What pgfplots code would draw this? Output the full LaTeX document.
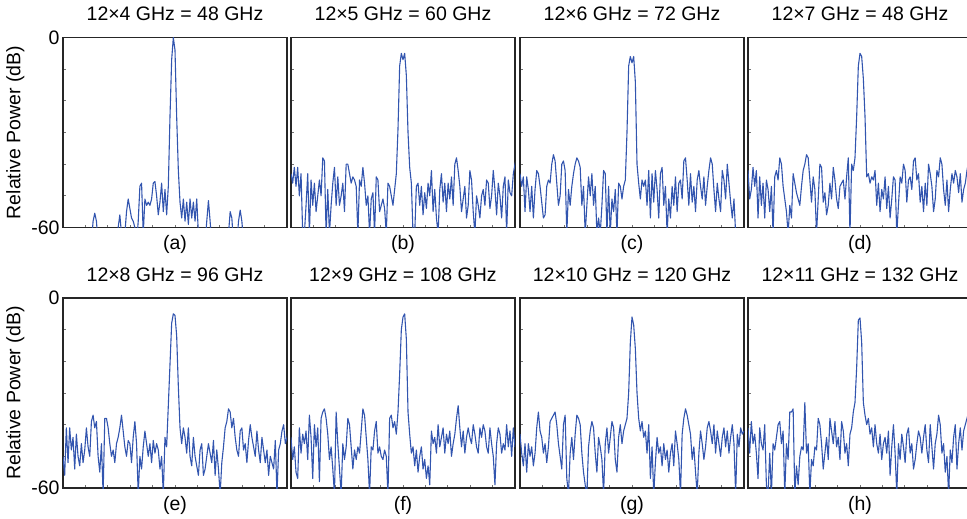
\documentclass[border=0pt]{standalone}
\usepackage{fontspec}
\setmainfont{Liberation Sans}
\usepackage{pgfplots}
\pgfplotsset{compat=1.18}
\definecolor{traceblue}{RGB}{50,85,175}
\newcommand\fs{\fontsize{19.5}{23}\selectfont}
\pgfplotsset{
 panel/.style={scale only axis, width=224pt, height=190pt,
   xmin=0, xmax=134, ymin=-60, ymax=0,
   axis line style={black!85, line width=1.1pt},
   tick align=inside, tick pos=left,
   xtick={13.4,26.8,40.2,53.6,67,80.4,93.8,107.2,120.6}, xticklabels={},
   ytick={-60,-50,-40,-30,-20,-10,0}, yticklabels={},
   major tick length=3pt,
   every tick/.style={black!55, line width=0.7pt},
   title style={font=\fs, at={(0.5,1)}, anchor=base, yshift=11pt},
   xlabel style={font=\fs, at={(0.5,0)}, anchor=base, yshift=-22pt},
   ylabel style={font=\fs},
   yticklabel style={font=\fs},
   anchor=south west},
 leftpanel/.style={yticklabels={-60,{},{},{},{},{},0}, ylabel={Relative Power (dB)}},
 trace/.style={color=traceblue, line width=1.1pt, line join=round},
}
\pgfkeys{/pgfplots/table/tab/.style={header=false, row sep=\\, x expr=\coordindex, y index=0}}
\begin{document}
\begin{tikzpicture}
\path[use as bounding box] (0,0) rectangle (967pt,-519pt);
\clip (0,0) rectangle (967pt,-519pt);
% (a)
\begin{axis}[panel, leftpanel, at={(63pt,-227.5pt)}, title={12×4 GHz = 48 GHz}, xlabel={(a)}]
\addplot[trace] table[tab]{
-65\\-65\\-65\\-65\\-65\\-65\\-65\\-65\\-65\\-65\\-65\\-65\\-65\\-65\\-65\\-65\\-65\\-65\\
-58\\-55.5\\-58\\-65\\
-65\\-65\\-65\\-65\\-65\\-65\\-65\\-65\\-65\\-65\\-65\\
-60\\-56\\-62\\-65\\
-62\\-55\\-51\\-54\\-57\\-58\\-60\\-65\\
-58\\-47\\-46\\-62\\-51\\-53\\-52\\-53\\-51\\-46\\-45.5\\-50\\-56\\-52\\-46\\-55\\-48\\-56\\-47\\
-25\\-7\\0\\-4\\-25\\-42\\-52\\-57\\-51\\-58\\-52\\-59\\-51\\-57\\-52\\-58\\-51\\-62\\-65\\
-65\\-65\\-65\\
-58\\-51.5\\-58\\-65\\
-65\\-65\\-65\\-65\\-65\\-65\\-65\\-65\\-65\\
-62\\-55\\-57\\-65\\
-65\\-65\\
-58\\-54.5\\-58\\-65\\
-65\\-65\\-65\\-65\\-65\\-65\\-65\\-65\\-65\\-65\\-65\\-65\\-65\\-65\\-65\\-65\\-65\\-65\\-65\\-65\\-65\\-65\\-65\\-65\\-65\\-65\\
};
\end{axis}
% (b)
\begin{axis}[panel, at={(291pt,-227.5pt)}, title={12×5 GHz = 60 GHz}, xlabel={(b)}]
\addplot[trace] table[tab]{
-43\\-46\\-41\\-47\\-41\\-50\\-43\\-62\\-62\\-53\\-43\\-62\\-45\\-53\\-46\\-55\\-50\\-45\\-50\\-38\\
-39\\-62\\-48\\-62\\-53\\-46\\-41\\-53\\-44\\-53\\-50\\-46\\-55\\-40\\-40\\-43\\-46\\-44\\-45\\-47\\
-62\\-45\\-47\\-41\\-46\\-53\\-50\\-62\\-51\\-49\\-62\\-44\\-45\\-55\\-53\\-51\\-54\\-62\\-46\\-47\\
-50\\-53\\-48\\-43\\
-29\\-9\\-5\\-7\\-5\\-12\\-30\\
-41\\-46\\-62\\-62\\-47\\-46\\-53\\-47\\-56\\-49\\-54\\-46\\-50\\-42\\-55\\-48\\-57\\-62\\-48\\-43\\
-52\\-46\\-55\\-46\\-51\\-44\\-53\\-40\\-38\\-42\\-47\\-55\\-51\\-47\\-57\\-53\\-42\\-45\\-55\\-62\\
-50\\-53\\-57\\-50\\-48\\-53\\-45\\-46\\-54\\-50\\-42\\-48\\-56\\-46\\-50\\-57\\-47\\-44\\-62\\-45\\
-49\\-50\\-43\\-40\\-38\\-43\\
};
\end{axis}
% (c)
\begin{axis}[panel, at={(520pt,-227.5pt)}, title={12×6 GHz = 72 GHz}, xlabel={(c)}]
\addplot[trace] table[tab]{
-43\\-47\\-44\\-55\\-44\\-48\\-55\\-47\\-57\\-48\\-42\\-43\\-47\\-52\\-57\\-56\\-47\\-45\\-46\\-40\\
-37\\-39\\-46\\-53\\-50\\-40\\-39\\-42\\-62\\-48\\-53\\-47\\-43\\-40\\-38\\-39\\-41\\-53\\-47\\-62\\
-53\\-44\\-50\\-43\\-53\\-47\\-62\\-57\\-62\\-53\\-42\\-43\\-62\\-47\\-62\\-51\\-55\\-48\\-62\\-46\\
-47\\-51\\-47\\-45\\
-30\\-9\\-6\\-8\\-6\\-14\\-40\\
-46\\-51\\-45\\-47\\-45\\-53\\-42\\-57\\-43\\-52\\-42\\-48\\-57\\-43\\-41\\-53\\-47\\-62\\-51\\-57\\
-47\\-53\\-44\\-55\\-46\\-45\\-51\\-39\\-38\\-45\\-53\\-43\\-52\\-47\\-55\\-45\\-42\\-47\\-51\\-44\\
-53\\-47\\-42\\-38\\-40\\-48\\-55\\-46\\-51\\-55\\-42\\-45\\-51\\-40\\-46\\-52\\-57\\-51\\-62\\
};
\end{axis}
% (d)
\begin{axis}[panel, at={(748pt,-227.5pt)}, title={12×7 GHz = 48 GHz}, xlabel={(d)}]
\addplot[trace] table[tab]{
-42\\-51\\-48\\-41\\-47\\-42\\-57\\-44\\-53\\-46\\-57\\-45\\-48\\-55\\-47\\-62\\-44\\-42\\-45\\-38\\
-40\\-47\\-51\\-55\\-62\\-53\\-57\\-43\\-46\\-49\\-51\\-53\\-47\\-42\\-40\\-37\\-38\\-45\\-52\\-44\\
-48\\-62\\-51\\-40\\-41\\-52\\-49\\-56\\-53\\-46\\-51\\-41\\-45\\-51\\-54\\-47\\-46\\-45\\-51\\-44\\
-38\\-62\\-40\\-42\\-38\\
-25\\-9\\-5\\-6\\-13\\-25\\
-44\\-43\\-46\\-44\\-45\\-42\\-53\\-46\\-55\\-48\\-51\\-44\\-54\\-47\\-57\\-51\\-44\\-45\\-62\\-53\\
-44\\-46\\-40\\-42\\-52\\-45\\-44\\-48\\-39\\-38\\-45\\-43\\-52\\-47\\-55\\-46\\-53\\-40\\-43\\-47\\
-55\\-51\\-42\\-44\\-38\\-40\\-48\\-53\\-45\\-55\\-48\\-43\\-46\\-42\\-44\\-49\\-43\\-52\\-48\\-46\\
-42\\-39\\-44\\-42\\-40\\-42\\
};
\end{axis}
% (e)
\begin{axis}[panel, leftpanel, at={(63pt,-488pt)}, title={12×8 GHz = 96 GHz}, xlabel={(e)}]
\addplot[trace] table[tab]{
-50\\-56\\-41\\-52\\-41\\-48\\-44\\-54\\-43\\-50\\-53\\-46\\-52\\-48\\-41\\-47\\-50\\-39\\-37\\-41\\
-39\\-50\\-55\\-46\\-62\\-38\\-38\\-41\\-46\\-50\\-48\\-52\\-46\\-44\\-41\\-37\\-42\\-47\\-50\\-45\\
-46\\-52\\-44\\-39\\-46\\-62\\-50\\-54\\-47\\-42\\-46\\-50\\-46\\-52\\-45\\-49\\-46\\-48\\-54\\-50\\
-62\\-44\\-47\\
-34\\-21\\-8\\-5\\-5.5\\-12\\-28\\
-41\\-46\\-41\\-44\\-49\\-41\\-50\\-53\\-44\\-50\\-53\\-56\\-48\\-46\\-56\\-54\\-50\\-46\\-49\\-52\\
-45\\-56\\-48\\-54\\-62\\-52\\-47\\-41\\-39\\-35\\-36\\-41\\-38\\-44\\-48\\-50\\-42\\-41\\-48\\-46\\
-52\\-45\\-40\\-44\\-47\\-50\\-42\\-48\\-52\\-44\\-48\\-52\\-48\\-56\\-50\\-52\\-54\\-45\\-62\\-48\\
-46\\-42\\-40\\-46\\-44\\-41\\-48\\-44\\
};
\end{axis}
% (f)
\begin{axis}[panel, at={(291pt,-488pt)}, title={12×9 GHz = 108 GHz}, xlabel={(f)}]
\addplot[trace] table[tab]{
-44\\-51\\-47\\-55\\-57\\-41\\-49\\-43\\-46\\-42\\-51\\-37\\-44\\-57\\-40\\-47\\-41\\-58\\-38\\-36\\
-35\\-38\\-43\\-51\\-47\\-54\\-62\\-36\\-46\\-54\\-62\\-46\\-51\\-47\\-38\\-40\\-47\\-54\\-48\\-51\\
-47\\-49\\-42\\-35\\-37\\-44\\-51\\-62\\-47\\-48\\-42\\-39\\-49\\-47\\-50\\-51\\-48\\-50\\-62\\-38\\
-37\\-41\\-39\\-43\\-36\\
-24\\-10\\-6\\-5\\-13\\-36\\
-43\\-49\\-47\\-53\\-48\\-55\\-50\\-47\\-54\\-51\\-57\\-53\\-59\\-42\\-46\\-44\\-49\\-40\\-47\\-44\\
-41\\-49\\-43\\-46\\-42\\-50\\-46\\-43\\-38\\-34\\-41\\-47\\-42\\-49\\-44\\-41\\-44\\-46\\-40\\-43\\
-47\\-49\\-41\\-44\\-40\\-42\\-47\\-49\\-41\\-46\\-50\\-59\\-46\\-41\\-43\\-49\\-46\\-48\\-40\\-47\\
-42\\-50\\-41\\-47\\-44\\
};
\end{axis}
% (g)
\begin{axis}[panel, at={(520pt,-488pt)}, title={12×10 GHz = 120 GHz}, xlabel={(g)}]
\addplot[trace] table[tab]{
-43\\-49\\-53\\-46\\-55\\-46\\-50\\-47\\-53\\-49\\-41\\-36\\-42\\-44\\-49\\-46\\-52\\-47\\-39\\-38\\
-37\\-36\\-40\\-46\\-50\\-54\\-40\\-37\\-57\\-62\\-49\\-44\\-51\\-43\\-37\\-38\\-40\\-49\\-55\\-59\\
-62\\-47\\-42\\-39\\-41\\-49\\-55\\-44\\-47\\-51\\-62\\-46\\-41\\-49\\-44\\-39\\-41\\-51\\-55\\-44\\
-40\\-46\\-42\\-40\\-38\\
-30\\-14\\-6\\-8.5\\-16\\-30\\-38\\
-42\\-39\\-44\\-42\\-49\\-40\\-57\\-47\\-62\\-52\\-44\\-49\\-47\\-53\\-46\\-51\\-48\\-55\\-49\\-46\\
-53\\-42\\-46\\-51\\-62\\-43\\-38\\-35\\-37\\-40\\-43\\-51\\-47\\-55\\-62\\-49\\-42\\-46\\-51\\-47\\
-41\\-39\\-42\\-46\\-40\\-49\\-42\\-46\\-50\\-44\\-41\\-47\\-42\\-49\\-44\\-40\\-46\\-62\\-43\\-47\\
-41\\-43\\-42\\
};
\end{axis}
% (h)
\begin{axis}[panel, at={(748pt,-488pt)}, title={12×11 GHz = 132 GHz}, xlabel={(h)}]
\addplot[trace] table[tab]{
-41\\-49\\-39\\-46\\-43\\-49\\-57\\-41\\-46\\-48\\-40\\-59\\-62\\-49\\-62\\-46\\-48\\-44\\-40\\-39\\
-46\\-42\\-62\\-46\\-51\\-36\\-36\\-35\\-62\\-53\\-59\\-50\\-47\\-48\\-33\\-49\\-46\\-62\\-51\\-53\\
-47\\-48\\-38\\-40\\-46\\-54\\-49\\-44\\-51\\-38\\-42\\-46\\-39\\-47\\-44\\-51\\-39\\-42\\-49\\-46\\
-53\\-43\\-41\\-36\\-33\\
-22\\-7\\-6.3\\-14\\-33\\-37\\
-40\\-38\\-43\\-41\\-47\\-40\\-46\\-49\\-43\\-51\\-46\\-44\\-49\\-42\\-56\\-47\\-40\\-49\\-62\\-46\\
-51\\-43\\-47\\-52\\-43\\-41\\-49\\-46\\-54\\-51\\-46\\-42\\-44\\-49\\-44\\-40\\-48\\-52\\-40\\-47\\
-54\\-46\\-43\\-37\\-40\\-49\\-46\\-55\\-50\\-62\\-48\\-52\\-44\\-40\\-54\\-46\\-41\\-48\\-42\\-40\\
-38\\-36\\-40\\
};
\end{axis}
\end{tikzpicture}
\end{document}
